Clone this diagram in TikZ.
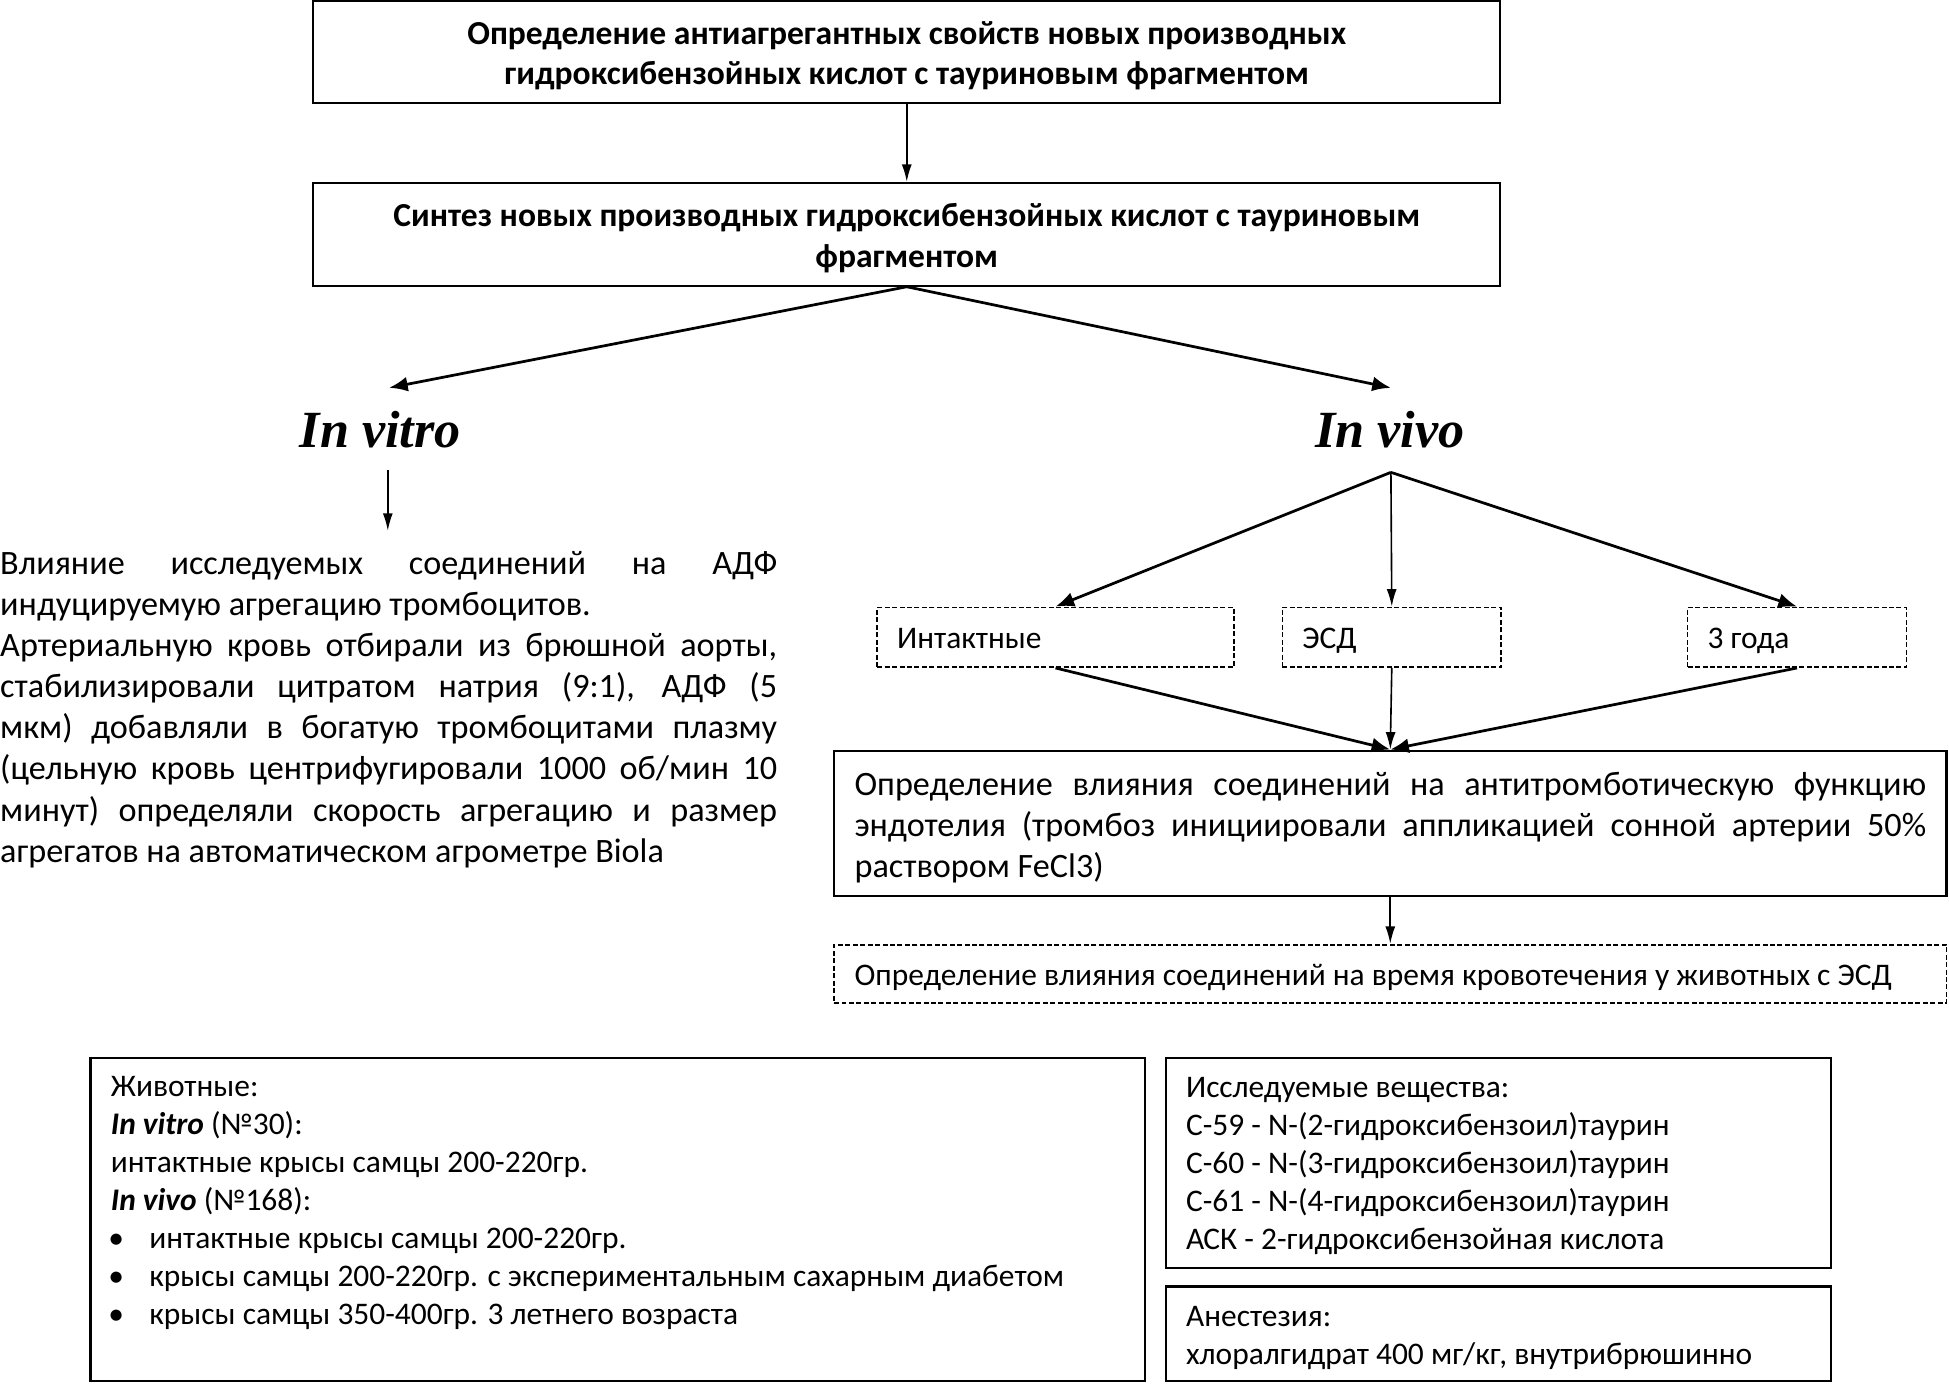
\documentclass[tikz,border=0pt]{standalone}
\usepackage{fontspec}
\setmainfont{Carlito}
\newfontfamily\tnr{Liberation Serif}
\usetikzlibrary{arrows.meta}
\tikzset{
  thinarr/.style={line width=1.3pt, -{Latex[length=14pt,width=8pt]}},
  thickarr/.style={line width=2.2pt, -{Latex[length=15pt,width=12pt]}},
  solidbox/.style={draw, line width=1.4pt, rectangle, inner sep=0pt},
  heavybox/.style={draw, line width=2pt, rectangle, inner sep=0pt},
  dashbox/.style={draw, line width=1.4pt, dash pattern=on 4pt off 2pt, rectangle, inner sep=0pt},
  headtext/.style={align=center, inner sep=0pt, font=\bfseries\fontsize{27}{32.5}\selectfont},
  bigitalic/.style={inner sep=0pt, font=\tnr\bfseries\itshape\fontsize{42}{42}\selectfont},
  smalllabel/.style={font=\fontsize{25.3}{30}\selectfont, text height=21pt, text depth=3pt},
}
\newcommand\bodyfont{\fontsize{27.5}{33.1}\selectfont}
\newcommand\smallfont{\fontsize{25.3}{30.5}\selectfont}
\newcommand\jl[2]{\hbox to #1{#2}}
\newcommand\bul[1]{\hbox{\hbox to 31pt{\hspace*{-2pt}•\hfil}#1}}
\begin{document}
\begin{tikzpicture}[x=1pt,y=-1pt]
\useasboundingbox (0,0) rectangle (1568,1113);

% top boxes
\node[solidbox, minimum width=955pt, minimum height=82pt,
  label={[headtext, yshift=-3pt]center:Определение антиагрегантных свойств новых производных\\гидроксибензойных кислот с тауриновым фрагментом}] (goal) at (729.5,42) {};
\node[solidbox, minimum width=955pt, minimum height=83pt,
  label={[headtext, yshift=-3pt]center:Синтез новых производных гидроксибензойных кислот с тауриновым\\фрагментом}] (synth) at (729.5,188.5) {};
\draw[thinarr] (goal.south) -- (synth.north);

% in vitro / in vivo
\node[bigitalic] (vitro) at (306,346) {In vitro};
\node[bigitalic] (vivo) at (1118,346) {In vivo};
\coordinate (vitrotop) at (313,312);
\coordinate (vivotop) at (1119,312);
\draw[thickarr] (synth.south) -- (vitrotop);
\draw[thickarr] (synth.south) -- (vivotop);

% in vitro text
\coordinate (vitrobot) at (312,378);
\node[inner sep=0pt, anchor=base west] (vitrotext) at (0,462) {\vtop{\bodyfont
  \jl{625pt}{Влияние исследуемых соединений на АДФ}
  \hbox{индуцируемую агрегацию тромбоцитов.}
  \jl{625pt}{Артериальную кровь отбирали из брюшной аорты,}
  \jl{625pt}{стабилизировали цитратом натрия (9:1), АДФ (5}
  \jl{625pt}{мкм) добавляли в богатую тромбоцитами плазму}
  \jl{625pt}{(цельную кровь центрифугировали 1000 об/мин 10}
  \jl{625pt}{минут) определяли скорость агрегацию и размер}
  \hbox{агрегатов на автоматическом агрометре Biola}}};
\coordinate (vitroend) at (312,427);
\draw[thinarr] (vitrobot) -- (vitroend);

% in vivo groups
\coordinate (vivoapex) at (1119,380);
\node[dashbox, smalllabel, minimum width=287pt, minimum height=48pt, anchor=north west] (intact) at (705,488)
  {\makebox[287pt][l]{\hspace*{16pt}Интактные}};
\node[dashbox, smalllabel, minimum width=176pt, minimum height=48pt, anchor=north west] (esd) at (1031,488)
  {\makebox[176pt][l]{\hspace*{16pt}ЭСД}};
\node[dashbox, smalllabel, minimum width=176pt, minimum height=48pt, anchor=north west] (old) at (1357,488)
  {\makebox[176pt][l]{\hspace*{16pt}3 года}};
\draw[thickarr] (vivoapex) -- (intact.north);
\draw[thinarr] (vivoapex) -- (esd.north);
\draw[thickarr] (vivoapex) -- (old.north);

% antithrombotic box
\node[heavybox, minimum width=895pt, minimum height=117pt] (anti) at (1118.5,662.5) {\vbox{\bodyfont\kern7pt
  \jl{862pt}{Определение влияния соединений на антитромботическую функцию}
  \jl{862pt}{эндотелия (тромбоз инициировали аппликацией сонной артерии 50\%}
  \jl{862pt}{раствором FeCl3)\hfil}}};
\draw[thickarr] (intact.south) -- (anti.north);
\draw[thinarr] (esd.south) -- (anti.north);
\draw[thickarr] (old.south) -- (anti.north);

% bleeding box
\node[dashbox, smalllabel, minimum width=895pt, minimum height=47pt] (bleed) at (1118.5,783.5)
  {\makebox[862pt][l]{Определение влияния соединений на время кровотечения у животных с ЭСД}};
\draw[thinarr] (anti.south) -- (bleed.north);

% bottom boxes
\node[heavybox, minimum width=848pt, minimum height=260pt, anchor=north west] (animals) at (72,850) {};
\node[inner sep=0pt, anchor=base west] (animalstext) at (89,882.5) {\vtop{\smallfont
  \hbox{Животные:}
  \hbox{\textbf{\textit{In vitro}} (№30):}
  \hbox{интактные крысы самцы 200-220гр.}
  \hbox{\textbf{\textit{In vivo}} (№168):}
  \bul{интактные крысы самцы 200-220гр.}
  \bul{крысы самцы 200-220гр. с экспериментальным сахарным диабетом}
  \bul{крысы самцы 350-400гр. 3 летнего возраста}}};

\node[heavybox, minimum width=535pt, minimum height=169pt, anchor=north west] (subst) at (937,850) {};
\node[inner sep=0pt, anchor=base west] (substtext) at (954,883) {\vtop{\smallfont
  \hbox{Исследуемые вещества:}
  \hbox{С-59 - N-(2-гидроксибензоил)таурин}
  \hbox{С-60 - N-(3-гидроксибензоил)таурин}
  \hbox{С-61 - N-(4-гидроксибензоил)таурин}
  \hbox{АСК - 2-гидроксибензойная кислота}}};

\node[heavybox, minimum width=535pt, minimum height=76pt, anchor=north west] (anest) at (937,1034) {};
\node[inner sep=0pt, anchor=base west] (anesttext) at (954,1067) {\vtop{\smallfont
  \hbox{Анестезия:}
  \hbox{хлоралгидрат 400 мг/кг, внутрибрюшинно}}};
\end{tikzpicture}
\end{document}
